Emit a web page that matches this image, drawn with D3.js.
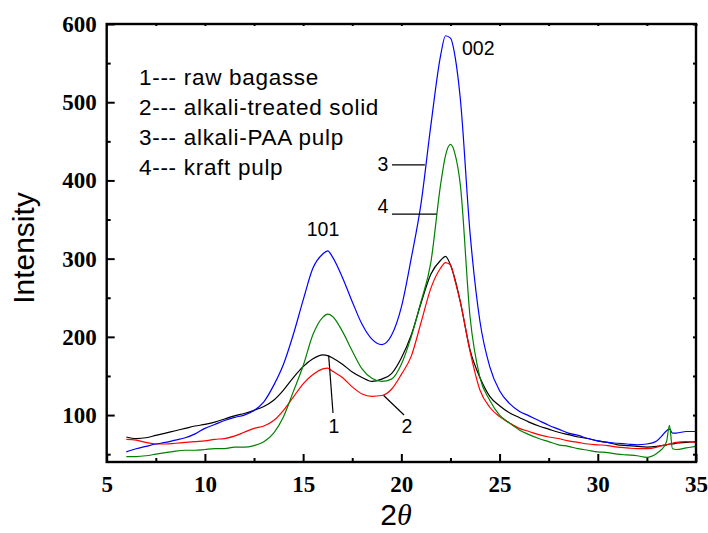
<!DOCTYPE html>
<html><head><meta charset="utf-8">
<script src="https://cdn.jsdelivr.net/npm/d3@7"></script>
<style>body{margin:0;background:#fff}svg{display:block}</style>
</head><body><svg id="c" width="708" height="533"></svg>
<script>
const twoTheta = [6,6.5,7,7.5,8,8.5,9,9.5,10,10.5,11,11.5,12,12.5,13,13.5,14,14.5,15,15.5,16,16.25,16.5,17,17.5,18,18.5,19,19.5,20,20.5,21,21.5,22,22.25,22.5,22.75,23,23.5,24,24.5,25,25.5,26,26.5,27,27.5,28,28.5,29,29.5,30,30.5,31,31.5,32,32.5,33,33.25,33.5,33.65,33.8,34,34.5,35];
const rawBagasse = [72,70,71,74,77,80,83,86,88,91,95,99,102,106,111,119,132,148,162,172,177,176,173,165,155,148,143,146,153,173,202,243,280,298,303,292,272,245,183,148,124,112,103,97,91,86,82,78,75,72,70,67,65,62,61,60,59,60,61,62,63,63,64,65,66];
const alkaliTreatedSolid = [69,68,65,63,63,64,65,66,67,69,70,73,78,83,86,93,106,123,140,152,159,160,156,148,136,127,124,125,133,152,175,218,262,288,295,292,270,245,181,132,110,98,90,83,79,75,72,70,67,65,63,62,61,59,58,57,57,59,61,62,63,64,65,66,65];
const alkaliPAAPulp = [53,57,60,63,65,68,71,76,83,88,93,97,100,106,117,138,165,203,247,288,306,310,302,276,245,216,197,190,202,238,300,370,470,560,585,582,556,505,332,220,162,131,115,105,99,93,87,82,77,74,70,67,65,64,63,62,63,67,73,80,82,77,77,79,79];
const kraftPulp = [47,47,48,50,52,54,55,55,56,57,57,59,59,61,66,77,98,130,163,203,225,229,226,207,182,159,147,143,146,165,200,245,295,395,432,446,432,395,225,148,119,100,90,81,75,70,66,62,60,57,55,53,52,50,49,48,46,51,56,66,87,57,56,58,60];
const seriesNames = ["raw bagasse","alkali-treated solid","alkali-PAA pulp","kraft pulp"];
const seriesColors = ["#000000","#ff0000","#0000ff","#008000"];
const legendLabels = ["1--- raw bagasse","2--- alkali-treated solid","3--- alkali-PAA pulp","4--- kraft pulp"];
const xTicks = [5,10,15,20,25,30,35];
const xMinor = [7.5,12.5,17.5,22.5,27.5,32.5];
const yTicks = [100,200,300,400,500,600];
const yMinor = [50,150,250,350,450,550];

const svg = d3.select("#c");
const L = 106.7, R = 696, T = 24, B = 462;
const x = d3.scaleLinear().domain([5,35]).range([L,R]);
const y = d3.scaleLinear().domain([40,600]).range([B,T]);

const tickFont = "'Liberation Serif','Times New Roman',serif";
const sansFont = "'Liberation Sans',Arial,sans-serif";

// data lines
const data = [rawBagasse, alkaliTreatedSolid, alkaliPAAPulp, kraftPulp];
const line = d3.line().x((d,i)=>x(twoTheta[i])).y(d=>y(d)).curve(d3.curveMonotoneX);
svg.append("g").selectAll("path").data(data).join("path")
  .attr("d", d=>line(d)).attr("fill","none")
  .attr("stroke",(d,i)=>seriesColors[i]).attr("stroke-width",1.2);

// axes
function styleAxis(g){ g.select(".domain").remove(); g.selectAll("line").attr("stroke","#000").attr("stroke-width",2); }
svg.append("g").attr("transform",`translate(0,${B})`)
  .call(d3.axisBottom(x).tickValues(xTicks).tickSize(-8).tickPadding(14).tickFormat(d3.format("d")))
  .call(styleAxis)
  .call(g=>g.selectAll("text").attr("font-family",tickFont).attr("font-weight","bold").attr("font-size",23).attr("fill","#000"));
svg.append("g").attr("transform",`translate(0,${B})`)
  .call(d3.axisBottom(x).tickValues(xMinor).tickSize(-4).tickFormat("")).call(styleAxis);
svg.append("g").attr("transform",`translate(${L},0)`)
  .call(d3.axisLeft(y).tickValues(yTicks).tickSize(-8).tickPadding(10).tickFormat(d3.format("d")))
  .call(styleAxis)
  .call(g=>g.selectAll("text").attr("font-family",tickFont).attr("font-weight","bold").attr("font-size",23).attr("fill","#000"));
svg.append("g").attr("transform",`translate(${L},0)`)
  .call(d3.axisLeft(y).tickValues(yMinor).tickSize(-4).tickFormat("")).call(styleAxis);
svg.append("g").attr("transform",`translate(${R},0)`)
  .call(d3.axisRight(y).tickValues(yTicks.concat(yMinor)).tickSize(-3).tickFormat("")).call(styleAxis);
svg.append("g").attr("transform",`translate(0,${T})`)
  .call(d3.axisTop(x).tickValues(xTicks.concat(xMinor)).tickSize(-2).tickFormat("")).call(styleAxis);

svg.append("rect").attr("x",L).attr("y",T).attr("width",R-L).attr("height",B-T)
  .attr("fill","none").attr("stroke","#000").attr("stroke-width",2.4);

// axis titles
svg.append("text").attr("transform",`translate(34,${(T+B)/2+5}) rotate(-90)`)
  .attr("text-anchor","middle").attr("font-family",sansFont).attr("font-size",30).text("Intensity");
const xt = svg.append("text").attr("x",396).attr("y",525).attr("text-anchor","middle")
  .attr("font-family",sansFont).attr("font-size",30);
xt.append("tspan").text("2");
xt.append("tspan").attr("font-family",tickFont).attr("font-style","italic").text("\u03B8");

// legend
svg.append("g").selectAll("text").data(legendLabels).join("text")
  .attr("x",139).attr("y",(d,i)=>85+i*30)
  .attr("font-family",sansFont).attr("font-size",22.5).attr("letter-spacing",0.7).text(d=>d);

// annotations
const ann = svg.append("g").attr("font-family",sansFont).attr("font-size",19.5).attr("fill","#000");
ann.append("text").attr("x",462).attr("y",55).text("002");
ann.append("text").attr("x",323).attr("y",236).attr("text-anchor","middle").text("101");
const leaders = [
  {t:"3", lx:383, ly:171, x1:392, x2:x(21.2), y2:y(420)},
  {t:"4", lx:383, ly:213, x1:392, x2:x(21.8), y2:y(357)},
  {t:"1", lx:334, ly:433, x1:333, y1:413, x2:x(16.3), y2:y(176)},
  {t:"2", lx:407, ly:433, x1:404, y1:415, x2:x(19.1), y2:y(125)}
];
leaders[0].y1 = leaders[0].y2;
leaders[1].y1 = leaders[1].y2;
ann.selectAll("line").data(leaders).join("line")
  .attr("x1",d=>d.x1).attr("y1",d=>d.y1).attr("x2",d=>d.x2).attr("y2",d=>d.y2)
  .attr("stroke","#000").attr("stroke-width",1.2);
ann.selectAll("text.l").data(leaders).join("text").attr("class","l")
  .attr("x",d=>d.lx).attr("y",d=>d.ly).attr("text-anchor","middle").text(d=>d.t);
</script></body></html>
